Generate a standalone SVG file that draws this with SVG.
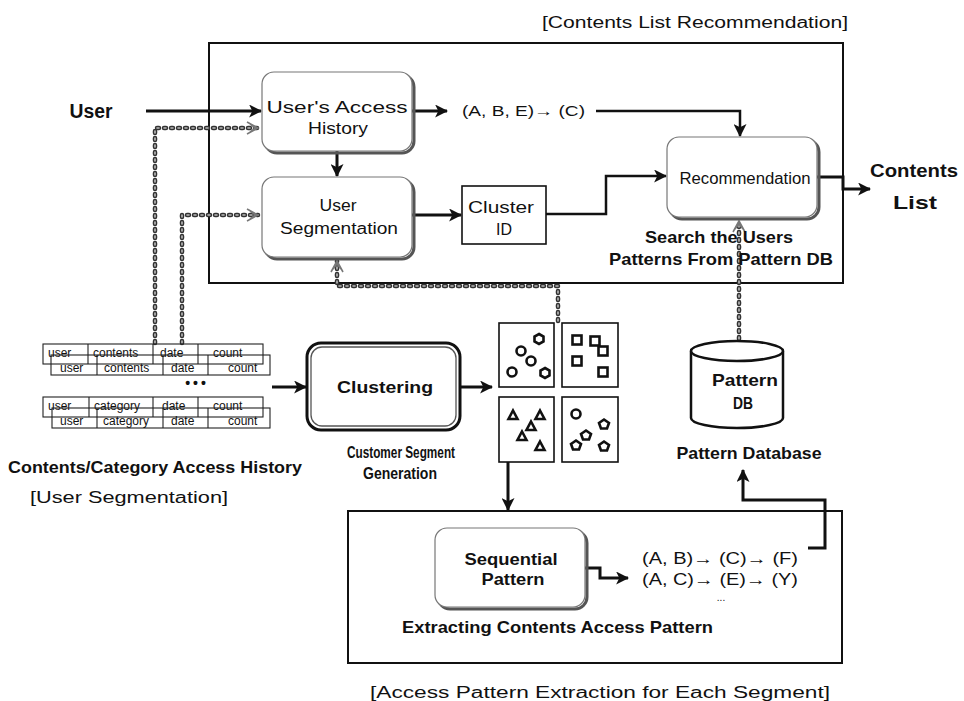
<svg xmlns="http://www.w3.org/2000/svg" width="964" height="701" viewBox="0 0 964 701">
  <style>
    .bg { fill: #ffffff; }
    .frame { fill: none; stroke: #111; stroke-width: 2; }
    .node { fill: #ffffff; stroke: #777; stroke-width: 1.2; }
    .shadow { fill: none; stroke: #555; stroke-width: 3; }
    .box { fill: #ffffff; stroke: #111; stroke-width: 1.6; }
    .wire { fill: none; stroke: #111; stroke-width: 3; stroke-linejoin: miter; }
    .wire-thin { fill: none; stroke: #111; stroke-width: 2.5; }
    .dot-o { fill: none; stroke: #333; stroke-width: 4.5; stroke-dasharray: 2 5; stroke-linecap: round; }
    .dot-i { fill: none; stroke: #bbb; stroke-width: 1.6; stroke-dasharray: 2 5; stroke-linecap: round; }
    .t { font-family: "Liberation Sans", Arial, sans-serif; fill: #111; }
    .b { font-family: "Liberation Sans", Arial, sans-serif; font-weight: bold; fill: #111; }
    .cell { fill: none; stroke: #222; stroke-width: 1.1; }
    .ct { font-family: "Liberation Sans", Arial, sans-serif; font-size: 12px; fill: #111; }
    .mark { fill: none; stroke: #111; stroke-width: 2.6; }
    .cyl { fill: #ffffff; stroke: #111; stroke-width: 2.5; }
  </style>
  <defs>
    <marker id="ah" viewBox="0 0 12 12" refX="11" refY="6" markerWidth="13" markerHeight="13" markerUnits="userSpaceOnUse" orient="auto">
      <path d="M0,0 L12,6 L0,12 L3,6 Z" fill="#111"/>
    </marker>
    <marker id="gh" viewBox="0 0 14 14" refX="12" refY="7" markerWidth="14" markerHeight="14" markerUnits="userSpaceOnUse" orient="auto">
      <path d="M1,1 L12,7 L1,13 M4,3 L9,7 L4,11" fill="none" stroke="#777" stroke-width="1.6"/>
    </marker>
  </defs>

  <rect class="bg" x="0" y="0" width="964" height="701"/>

  <!-- section frames -->
  <g id="frame-recommendation">
    <rect class="frame" x="209" y="43" width="634" height="240"/>
    <text class="t" x="695" y="28" font-size="16" text-anchor="middle" textLength="306" lengthAdjust="spacingAndGlyphs">[Contents List Recommendation]</text>
  </g>
  <g id="frame-extraction">
    <rect class="frame" x="348" y="511" width="494" height="152"/>
    <text class="t" x="370" y="698" font-size="16" textLength="460" lengthAdjust="spacingAndGlyphs">[Access Pattern Extraction for Each Segment]</text>
  </g>
  <g id="caption-user-segmentation">
    <text class="t" x="30" y="503" font-size="16" textLength="198" lengthAdjust="spacingAndGlyphs">[User Segmentation]</text>
  </g>

  <!-- connectors -->
  <g id="connectors">
    <!-- dotted data feeds -->
    <path class="dot-o" d="M155,343 V128 H258"/>
    <path class="dot-i" d="M155,343 V128 H258" marker-end="url(#gh)"/>
    <path class="dot-o" d="M182,343 V215 H258"/>
    <path class="dot-i" d="M182,343 V215 H258" marker-end="url(#gh)"/>
    <path class="dot-o" d="M558,321 V286 H337 V261"/>
    <path class="dot-i" d="M558,321 V286 H337 V261" marker-end="url(#gh)"/>
    <path class="dot-o" d="M739,339 V221"/>
    <path class="dot-i" d="M739,339 V221" marker-end="url(#gh)"/>

    <!-- solid flow -->
    <path class="wire" d="M146,111 H261" stroke-width="4" marker-end="url(#ah)"/>
    <path class="wire" d="M337,151 V176" marker-end="url(#ah)"/>
    <path class="wire" d="M412,111 H447" marker-end="url(#ah)"/>
    <path class="wire-thin" d="M596,111 H740 V136" marker-end="url(#ah)"/>
    <path class="wire" d="M412,215 H461" marker-end="url(#ah)"/>
    <path class="wire-thin" d="M546,214 H606 V176 H666" marker-end="url(#ah)"/>
    <path class="wire" d="M817,177 H843 V189 H870" stroke-width="3.5" marker-end="url(#ah)"/>
    <path class="wire" d="M272,387 H306" marker-end="url(#ah)"/>
    <path class="wire" d="M460,387 H492" marker-end="url(#ah)"/>
    <path class="wire" d="M508,462 V510" marker-end="url(#ah)"/>
    <path class="wire" d="M585,568 H600 V578 H628" stroke-width="3.5" marker-end="url(#ah)"/>
    <path class="wire" d="M808,548 H825 V500 H743 V470" stroke-width="3.5" marker-end="url(#ah)"/>
  </g>

  <!-- input label -->
  <g id="user">
    <text class="b" x="91" y="118" font-size="20" text-anchor="middle" textLength="43" lengthAdjust="spacingAndGlyphs">User</text>
  </g>

  <g id="access-history">
    <rect class="shadow" x="265" y="75" width="149" height="78" rx="12"/>
    <rect class="node" x="262" y="72" width="150" height="79" rx="12"/>
    <text class="t" x="337" y="113" font-size="16" text-anchor="middle" textLength="141" lengthAdjust="spacingAndGlyphs">User's Access</text>
    <text class="t" x="338" y="134" font-size="16" text-anchor="middle" textLength="60" lengthAdjust="spacingAndGlyphs">History</text>
  </g>

  <g id="user-segmentation">
    <rect class="shadow" x="265" y="180" width="149" height="79" rx="12"/>
    <rect class="node" x="262" y="177" width="150" height="80" rx="12"/>
    <text class="t" x="338" y="211" font-size="16" text-anchor="middle" textLength="37" lengthAdjust="spacingAndGlyphs">User</text>
    <text class="t" x="339" y="234" font-size="16" text-anchor="middle" textLength="118" lengthAdjust="spacingAndGlyphs">Segmentation</text>
  </g>

  <g id="current-sequence">
    <text class="t" x="462" y="116" font-size="15" textLength="123" lengthAdjust="spacingAndGlyphs">(A, B, E)→ (C)</text>
  </g>

  <g id="cluster-id">
    <rect class="box" x="462" y="186" width="84" height="58"/>
    <text class="t" x="501" y="213" font-size="16" text-anchor="middle" textLength="66" lengthAdjust="spacingAndGlyphs">Cluster</text>
    <text class="t" x="504" y="235" font-size="16" text-anchor="middle">ID</text>
  </g>

  <g id="recommendation">
    <rect class="shadow" x="670" y="140" width="149" height="79" rx="12"/>
    <rect class="node" x="667" y="137" width="150" height="80" rx="12"/>
    <text class="t" x="745" y="184" font-size="16" text-anchor="middle" textLength="131" lengthAdjust="spacingAndGlyphs">Recommendation</text>
    <text class="b" x="719" y="243" font-size="17" text-anchor="middle" textLength="148" lengthAdjust="spacingAndGlyphs">Search the Users</text>
    <text class="b" x="721" y="265" font-size="17" text-anchor="middle" textLength="224" lengthAdjust="spacingAndGlyphs">Patterns From Pattern DB</text>
  </g>

  <g id="contents-list">
    <text class="b" x="914" y="177" font-size="19" text-anchor="middle" textLength="88" lengthAdjust="spacingAndGlyphs">Contents</text>
    <text class="b" x="915" y="209" font-size="19" text-anchor="middle" textLength="44" lengthAdjust="spacingAndGlyphs">List</text>
  </g>

  <!-- access history tables -->
  <g id="access-history-tables">
    <rect class="cell" x="43" y="344" width="220" height="20"/>
    <path class="cell" d="M88,344 V364 M153,344 V364 M198,344 V364"/>
    <text class="ct" x="48" y="357">user</text>
    <text class="ct" x="93" y="357">contents</text>
    <text class="ct" x="160" y="357">date</text>
    <text class="ct" x="213" y="357">count</text>
    <rect class="cell" x="51" y="355" width="219" height="20"/>
    <path class="cell" d="M97,355 V375 M163,355 V375 M208,355 V375"/>
    <text class="ct" x="60" y="372">user</text>
    <text class="ct" x="104" y="372">contents</text>
    <text class="ct" x="171" y="372">date</text>
    <text class="ct" x="228" y="372">count</text>
    <text class="b" x="197" y="388" font-size="14" text-anchor="middle" letter-spacing="3">•••</text>

    <rect class="cell" x="43" y="397" width="220" height="20"/>
    <path class="cell" d="M89,397 V417 M153,397 V417 M198,397 V417"/>
    <text class="ct" x="48" y="410">user</text>
    <text class="ct" x="94" y="410">category</text>
    <text class="ct" x="162" y="410">date</text>
    <text class="ct" x="213" y="410">count</text>
    <rect class="cell" x="52" y="408" width="218" height="20"/>
    <path class="cell" d="M97,408 V428 M163,408 V428 M208,408 V428"/>
    <text class="ct" x="60" y="425">user</text>
    <text class="ct" x="103" y="425">category</text>
    <text class="ct" x="171" y="425">date</text>
    <text class="ct" x="228" y="425">count</text>

    <text class="b" x="8" y="473" font-size="17" textLength="294" lengthAdjust="spacingAndGlyphs">Contents/Category Access History</text>
  </g>

  <g id="clustering">
    <rect x="307" y="343" width="153" height="87" rx="14" fill="#fff" stroke="#111" stroke-width="3"/>
    <rect x="311" y="347" width="145" height="79" rx="11" fill="none" stroke="#555" stroke-width="1.3"/>
    <text class="b" x="385" y="393" font-size="17" text-anchor="middle" textLength="96" lengthAdjust="spacingAndGlyphs">Clustering</text>
    <text class="b" x="401" y="458" font-size="16" text-anchor="middle" textLength="108" lengthAdjust="spacingAndGlyphs">Customer Segment</text>
    <text class="b" x="400" y="479" font-size="16" text-anchor="middle" textLength="74" lengthAdjust="spacingAndGlyphs">Generation</text>
  </g>

  <!-- four customer segments -->
  <g id="segments">
    <rect class="box" x="499" y="323" width="55" height="64"/>
    <rect class="box" x="562" y="323" width="56" height="64"/>
    <rect class="box" x="499" y="397" width="55" height="65"/>
    <rect class="box" x="562" y="397" width="56" height="65"/>

    <polygon class="mark" points="539,334 543.5,336.5 543.5,341.5 539,344 534.5,341.5 534.5,336.5"/>
    <circle class="mark" cx="521" cy="351" r="4.5"/>
    <circle class="mark" cx="531" cy="361" r="4.5"/>
    <circle class="mark" cx="512" cy="372" r="4.5"/>
    <polygon class="mark" points="545,368 549.5,370.5 549.5,375.5 545,378 540.5,375.5 540.5,370.5"/>

    <rect class="mark" x="572.5" y="335.5" width="9" height="9"/>
    <rect class="mark" x="590.5" y="336.5" width="9" height="9"/>
    <rect class="mark" x="598.5" y="346.5" width="9" height="9"/>
    <rect class="mark" x="572.5" y="356.5" width="9" height="9"/>
    <rect class="mark" x="598.5" y="367.5" width="9" height="9"/>

    <polygon class="mark" points="513,410.5 517.5,419 508.5,419"/>
    <polygon class="mark" points="540,410.5 544.5,419 535.5,419"/>
    <polygon class="mark" points="531,421.5 535.5,430 526.5,430"/>
    <polygon class="mark" points="522,431.5 526.5,440 517.5,440"/>
    <polygon class="mark" points="540,441.5 544.5,450 535.5,450"/>

    <circle class="mark" cx="576" cy="414" r="4.5"/>
    <polygon class="mark" points="604,419.5 609,423 607,428.5 601,428.5 599,423"/>
    <polygon class="mark" points="586,430.5 591,434 589,439.5 583,439.5 581,434"/>
    <polygon class="mark" points="576,440.5 581,444 579,449.5 573,449.5 571,444"/>
    <polygon class="mark" points="604,441.5 609,445 607,450.5 601,450.5 599,445"/>
  </g>

  <g id="pattern-db">
    <path class="cyl" d="M691,351 V418 A46,10 0 0 0 783,418 V351"/>
    <ellipse class="cyl" cx="737" cy="351" rx="46" ry="10"/>
    <text class="b" x="745" y="386" font-size="17" text-anchor="middle" textLength="66" lengthAdjust="spacingAndGlyphs">Pattern</text>
    <text class="b" x="743" y="409" font-size="17" text-anchor="middle" textLength="20" lengthAdjust="spacingAndGlyphs">DB</text>
    <text class="b" x="749" y="459" font-size="17" text-anchor="middle" textLength="145" lengthAdjust="spacingAndGlyphs">Pattern Database</text>
  </g>

  <g id="sequential-pattern">
    <rect class="shadow" x="438" y="531" width="149" height="78" rx="12"/>
    <rect class="node" x="435" y="528" width="150" height="79" rx="12"/>
    <text class="b" x="511" y="565" font-size="16" text-anchor="middle" textLength="93" lengthAdjust="spacingAndGlyphs">Sequential</text>
    <text class="b" x="513" y="585" font-size="16" text-anchor="middle" textLength="63" lengthAdjust="spacingAndGlyphs">Pattern</text>
    <text class="b" x="402" y="633" font-size="17" textLength="311" lengthAdjust="spacingAndGlyphs">Extracting Contents Access Pattern</text>
  </g>

  <g id="extracted-patterns">
    <text class="t" x="642" y="564" font-size="16" textLength="156" lengthAdjust="spacingAndGlyphs">(A, B)→ (C)→ (F)</text>
    <text class="t" x="642" y="585" font-size="16" textLength="156" lengthAdjust="spacingAndGlyphs">(A, C)→ (E)→ (Y)</text>
    <text class="t" x="721" y="601" font-size="10" text-anchor="middle">...</text>
  </g>
</svg>
